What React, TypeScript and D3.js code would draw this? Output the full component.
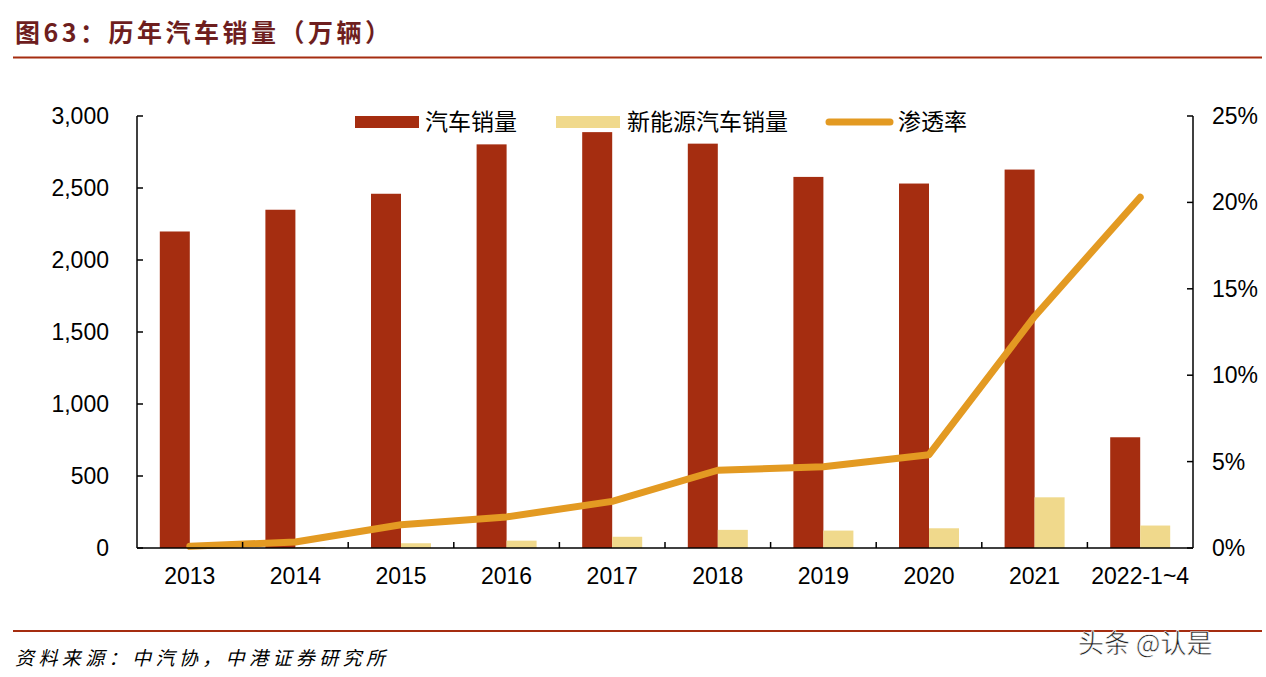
import React from "react";
import * as d3 from "d3";

const categories = ["2013", "2014", "2015", "2016", "2017", "2018", "2019", "2020", "2021", "2022-1~4"];
const carSales = [2198, 2349, 2460, 2803, 2888, 2808, 2577, 2531, 2628, 769];
const nevSales = [2, 7, 33, 51, 78, 126, 121, 137, 352, 156];
const penetration = [0.1, 0.35, 1.35, 1.8, 2.7, 4.5, 4.7, 5.4, 13.4, 20.3];
const leftTicks = [0, 500, 1000, 1500, 2000, 2500, 3000];
const rightTicks = [0, 5, 10, 15, 20, 25];

const W = 1266;
const H = 677;
const L = 137;
const R = 1193;
const T = 116;
const B = 548;

const RED = "#A52D10";
const YEL = "#F0D98C";
const ORG = "#E39A22";
const FONT = "'Liberation Sans', Arial, sans-serif";
const CJK = "'Noto Sans CJK SC', sans-serif";

export default function App() {
  const x = d3.scaleBand<string>().domain(categories).range([L, R]);
  const y = d3.scaleLinear().domain([0, 3000]).range([B, T]);
  const y2 = d3.scaleLinear().domain([0, 25]).range([B, T]);
  const bw = 30;
  const line = d3
    .line<number>()
    .x((_, i) => (x(categories[i]) as number) + x.bandwidth() / 2)
    .y((d) => y2(d));

  return (
    <svg width={W} height={H} style={{ position: "absolute", left: 0, top: 0, background: "#fff" }}>
      <rect x={0} y={0} width={W} height={H} fill="#fff" />
      {/* Title */}
      <text x={15} y={42} fontFamily={CJK} fontWeight="bold" fontSize={25} fill="#6E1E1E" textLength={375} lengthAdjust="spacing">
        图63：历年汽车销量（万辆）
      </text>
      <line x1={13} x2={1262} y1={57.5} y2={57.5} stroke={RED} strokeWidth={2} />

      {/* bars */}
      {categories.map((c, i) => {
        const cx = (x(c) as number) + x.bandwidth() / 2;
        return (
          <g key={c}>
            <rect x={cx - bw} y={y(carSales[i])} width={bw} height={B - y(carSales[i])} fill={RED} />
            <rect x={cx} y={y(nevSales[i])} width={bw} height={B - y(nevSales[i])} fill={YEL} />
          </g>
        );
      })}

      {/* line */}
      <path d={line(penetration) as string} fill="none" stroke={ORG} strokeWidth={7} strokeLinecap="round" strokeLinejoin="round" />

      {/* axes */}
      <line x1={L} x2={L} y1={T} y2={B} stroke="#000" strokeWidth={1.5} />
      <line x1={R} x2={R} y1={T} y2={B} stroke="#000" strokeWidth={1.5} />
      <line x1={L} x2={R} y1={B} y2={B} stroke="#000" strokeWidth={1.5} />
      {leftTicks.map((t) => (
        <g key={"l" + t}>
          <line x1={L} x2={L + 6} y1={y(t)} y2={y(t)} stroke="#000" strokeWidth={1.5} />
          <text x={109} y={y(t) + 8} textAnchor="end" fontFamily={FONT} fontSize={23} fill="#000">
            {d3.format(",")(t)}
          </text>
        </g>
      ))}
      {rightTicks.map((t) => (
        <g key={"r" + t}>
          <line x1={R - 6} x2={R} y1={y2(t)} y2={y2(t)} stroke="#000" strokeWidth={1.5} />
          <text x={1212} y={y2(t) + 8} textAnchor="start" fontFamily={FONT} fontSize={23} fill="#000">
            {t + "%"}
          </text>
        </g>
      ))}
      {categories.map((c, i) => (
        <g key={"x" + c}>
          {i > 0 && (
            <line x1={x(c) as number} x2={x(c) as number} y1={B} y2={B - 6} stroke="#000" strokeWidth={1.5} />
          )}
          <text x={(x(c) as number) + x.bandwidth() / 2} y={584} textAnchor="middle" fontFamily={FONT} fontSize={23} fill="#000">
            {c}
          </text>
        </g>
      ))}

      {/* legend */}
      <rect x={355} y={116} width={64} height={12} fill={RED} />
      <text x={425} y={130} fontFamily={CJK} fontSize={23} fill="#000">汽车销量</text>
      <rect x={556} y={116} width={64} height={12} fill={YEL} />
      <text x={627} y={130} fontFamily={CJK} fontSize={23} fill="#000">新能源汽车销量</text>
      <line x1={829} x2={890} y1={122} y2={122} stroke={ORG} strokeWidth={7} strokeLinecap="round" />
      <text x={898} y={130} fontFamily={CJK} fontSize={23} fill="#000">渗透率</text>

      {/* footer */}
      <line x1={13} x2={1262} y1={631} y2={631} stroke={RED} strokeWidth={2} />
      <text x={15} y={665} fontFamily={CJK} fontStyle="italic" fontSize={19} fill="#000" textLength={370} lengthAdjust="spacing">
        资料来源：中汽协，中港证券研究所
      </text>
      <text x={1078} y={653} fontFamily={CJK} fontSize={26} fill="#222" stroke="#fff" strokeWidth={0.6}>
        头条 @认是
      </text>
    </svg>
  );
}
